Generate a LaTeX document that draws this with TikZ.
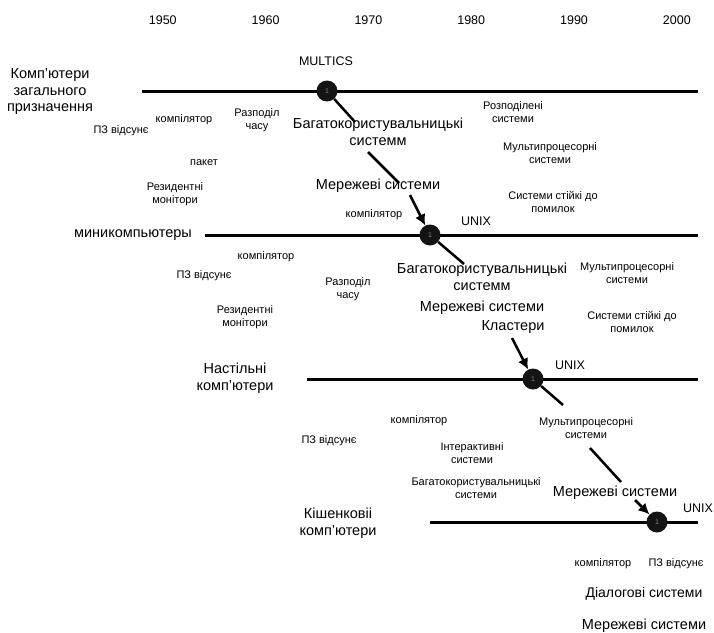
\documentclass[tikz,border=0pt]{standalone}
\usepackage{fontspec}
\setmainfont{Liberation Sans}
\usetikzlibrary{arrows.meta}
\usetikzlibrary{positioning}

\begin{document}
\begin{tikzpicture}[x=1pt,y=-1pt,
		big/.style={font=\fontsize{14.5}{17.5}\selectfont,align=center,inner sep=0pt},
		small/.style={font=\fontsize{11}{13.5}\selectfont,align=center,inner sep=0pt},
		yr/.style={font=\fontsize{12.5}{15}\selectfont,inner sep=0pt},
		hub/.style={circle,fill=black!92,text=black!50,minimum size=21pt,inner sep=0pt,font=\fontsize{7}{8}\selectfont},
		axis/.style={line width=3pt},
		link/.style={line width=2.5pt},
		tip/.style={-{Latex[length=11pt,width=11pt]}}]
		\useasboundingbox (0,0) rectangle (714,632);
		
		\foreach \yr [count=\i] in {1950,1960,1970,1980,1990,2000}
			\node[yr] (y\yr) at (60+102.8*\i,20) {\yr};
		
		\coordinate (l1a) at (142,91);
		\coordinate (l1b) at (698,91);
		\coordinate (l2a) at (205,235);
		\coordinate (l2b) at (698,235);
		\coordinate (l3a) at (307,379);
		\coordinate (l3b) at (698,379);
		\coordinate (l4a) at (430,522);
		\coordinate (l4b) at (698,522);
		
		\draw[axis] (l1a) -- (l1b);
		\draw[axis] (l2a) -- (l2b);
		\draw[axis] (l3a) -- (l3b);
		\draw[axis] (l4a) -- (l4b);
		
		\node[hub] (c1) at (327,91) {1};
		\node[hub] (c2) at (430,235) {1};
		\node[hub] (c3) at (533,379) {1};
		\node[hub] (c4) at (657,522) {1};
		
		% mainframes
		\node[big,font=\fontsize{14.5}{16.5}\selectfont] (gp) at (50,92) {Комп’ютери\\загального\\призначення};
		\node[yr] (multics) at (326,61) {MULTICS};
		\node[small] (pz1) at (121,131) {ПЗ відсунє};
		\node[small] (comp1) at (184,120) {компілятор};
		\node[small] (ts1) at (257,120) {Разподіл\\часу};
		\node[small] (batch1) at (204,163) {пакет};
		\node[small] (res1) at (175,194) {Резидентні\\монітори};
		\node[big] (mu1) at (378,132) {Багатокористувальницькі\\системм};
		\node[big] (net1) at (378,186) {Мережеві системи};
		\node[small] (comp1b) at (374,215) {компілятор};
		\node[small] (dist1) at (513,112) {Розподілені\\системи};
		\node[small] (mp1) at (550,153) {Мультипроцесорні\\системи};
		\node[small] (ft1) at (553,202) {Системи стійкі до\\помилок};
		
		% minicomputers
		\node[big] (mini) at (133,235) {миникомпьютеры};
		\node[yr] (unix2) at (476,221) {UNIX};
		\node[small] (comp2) at (266,257) {компілятор};
		\node[small] (pz2) at (204,276) {ПЗ відсунє};
		\node[small] (res2) at (245,317) {Резидентні\\монітори};
		\node[small] (ts2) at (348,289) {Разподіл\\часу};
		\node[big] (mu2) at (482,277) {Багатокористувальницькі\\системм};
		\node[big] (net2) at (482,308) {Мережеві системи};
		\node[big] (clu2) at (513,327) {Кластери};
		\node[small] (mp2) at (627,273) {Мультипроцесорні\\системи};
		\node[small] (ft2) at (632,322) {Системи стійкі до\\помилок};
		
		% desktops
		\node[big] (desk) at (235,378) {Настільні\\комп’ютери};
		\node[yr] (unix3) at (570,365) {UNIX};
		\node[small] (comp3) at (419,421) {компілятор};
		\node[small] (pz3) at (329,441) {ПЗ відсунє};
		\node[small] (mp3) at (586,428) {Мультипроцесорні\\системи};
		\node[small] (int3) at (472,453) {Інтерактивні\\системи};
		\node[small] (mu3) at (476,488) {Багатокористувальницькі\\системи};
		\node[big] (net3) at (615,493) {Мережеві системи};
		
		% handhelds
		\node[big] (pocket) at (338,523) {Кішенковіі\\комп’ютери};
		\node[yr] (unix4) at (698,508) {UNIX};
		\node[small] (comp4) at (603,564) {компілятор};
		\node[small] (pz4) at (676,564) {ПЗ відсунє};
		\node[big,font=\fontsize{14}{17}\selectfont] (dial4) at (644,594) {Діалогові системи};
		\node[big] (net4) at (644,626) {Мережеві системи};
		
		\coordinate (a1) at (355,122);
		\coordinate (a2) at (368,152);
		\coordinate (a3) at (399,183);
		\coordinate (a4) at (410,195);
		\coordinate (b1) at (464,264);
		\coordinate (b2) at (512,338);
		\coordinate (d1) at (563,405);
		\coordinate (d2) at (590,448);
		\coordinate (d3) at (621,482);
		\coordinate (d4) at (635,500);
		
		\draw[link] (c1) -- (a1);
		\draw[link] (a2) -- (a3);
		\draw[link,tip] (a4) -- (c2);
		\draw[link] (c2) -- (b1);
		\draw[link,tip] (b2) -- (c3);
		\draw[link] (c3) -- (d1);
		\draw[link] (d2) -- (d3);
		\draw[link,tip] (d4) -- (c4);
\end{tikzpicture}
\end{document}
